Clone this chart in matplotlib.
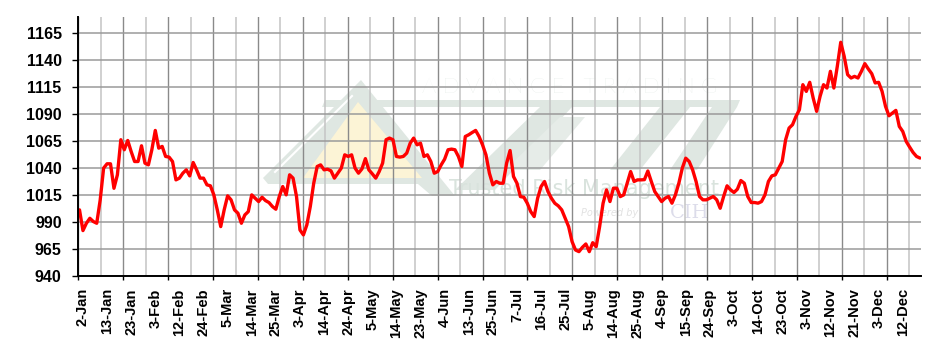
import matplotlib
matplotlib.use("Agg")
import matplotlib.pyplot as plt
import numpy as np
from matplotlib.patches import Polygon
from matplotlib.ticker import FixedLocator, NullFormatter

# ---------------- data ----------------
prices = [
    1001, 981.8, 988.6, 993.2, 990.2, 988.6, 1010, 1039.7, 1043.7, 1043.7,
    1021, 1033.5, 1066, 1056.7, 1065.3, 1055, 1045.8, 1045.8, 1060.4, 1044.3,
    1042.7, 1056.7, 1074.6, 1058.2, 1059.8, 1050.5, 1049.9, 1045.8, 1028.8, 1030.4,
    1035, 1038.1, 1032.5, 1044.9, 1038.1, 1030.4, 1030.4, 1024.2, 1023.3, 1014.9,
    1001, 985.5, 1001, 1014, 1010.3, 1001, 997.9, 988.6, 996.3, 999.4,
    1014.9, 1011.8, 1008.7, 1012.7, 1009.6, 1007.8, 1004.1, 1001.6, 1013.4, 1022.6,
    1014.9, 1033.5, 1030.4, 1013.4, 982.4, 977.8, 987.1, 1004.1, 1025.7, 1041.2,
    1042.7, 1038.1, 1038.7, 1037.2, 1030.4, 1035, 1039.7, 1052, 1050.5, 1052,
    1039.7, 1035, 1039, 1048.5, 1038.1, 1034.4, 1030.4, 1036.5, 1044.3, 1066,
    1067.5, 1066, 1050.5, 1049.9, 1050.5, 1053.6, 1062.8, 1067.5, 1061.3, 1062.8,
    1050.5, 1052, 1045.8, 1035, 1036.5, 1042.7, 1048, 1056.7, 1057.3, 1056.7,
    1050.5, 1041.2, 1069, 1070.6, 1072.7, 1074.6, 1069, 1061.3, 1052, 1035,
    1024.2, 1027.3, 1025.7, 1025.7, 1044.3, 1056, 1031.9, 1025.7, 1013.3, 1012.7,
    1007.1, 999.4, 994.8, 1011.8, 1022.6, 1027.3, 1018, 1011.8, 1007.1, 1004.7,
    1001, 993.2, 985.5, 971.6, 963.8, 962.3, 966.3, 969.4, 962.3, 970.6,
    966.9, 985.5, 1007.1, 1019.5, 1008.7, 1021.1, 1021.1, 1013.3, 1014.9, 1025.7,
    1036.5, 1027.3, 1028.8, 1028.8, 1029, 1037, 1027.3, 1018, 1013.4, 1008.7,
    1011.8, 1013.4, 1007.2, 1014.9, 1025.7, 1039.7, 1048.9, 1045.8, 1038.1, 1027.3,
    1013.4, 1010.3, 1010.3, 1011.8, 1013.4, 1010.3, 1002.5, 1013.4, 1023.3, 1019.6,
    1017.1, 1020.2, 1028.2, 1025.7, 1013.4, 1007.8, 1007.8, 1007.2, 1008.7, 1014.9,
    1027.3, 1032.5, 1033.5, 1039.7, 1045.8, 1066, 1076.8, 1079.9, 1087.6, 1093.8,
    1117, 1110.8, 1119.2, 1104.6, 1092.3, 1106.2, 1117, 1113.9, 1129.4, 1113.9,
    1134, 1156.3, 1143.3, 1126.3, 1123.2, 1124.7, 1123.2, 1129.4, 1136.5, 1131.6,
    1127.2, 1118.6, 1119.2, 1110.8, 1096.9, 1088.2, 1090.7, 1093.2, 1078.3, 1073.7,
    1064.4, 1059.2, 1054.2, 1050.5, 1049,
]

date_labels = [
    "2-Jan", "13-Jan", "23-Jan", "3-Feb", "12-Feb", "24-Feb", "5-Mar", "14-Mar",
    "25-Mar", "3-Apr", "14-Apr", "24-Apr", "5-May", "14-May", "23-May", "4-Jun",
    "13-Jun", "25-Jun", "7-Jul", "16-Jul", "25-Jul", "5-Aug", "14-Aug", "25-Aug",
    "4-Sep", "15-Sep", "24-Sep", "3-Oct", "14-Oct", "23-Oct", "3-Nov", "12-Nov",
    "21-Nov", "3-Dec", "12-Dec",
]
label_every = 7  # trading days between labels

y_ticks = [940, 965, 990, 1015, 1040, 1065, 1090, 1115, 1140, 1165]

# ---------------- figure ----------------
W, H = 936, 356
fig = plt.figure(figsize=(W / 100, H / 100), dpi=100)
fig.patch.set_facecolor("white")

L, R, T, B = 78.3, 921.0, 16.7, 275.7
ax = fig.add_axes([L / W, 1 - B / H, (R - L) / W, (B - T) / H])
ax.set_facecolor("white")

FONT = "Liberation Sans"

x = np.arange(len(prices))
ax.plot(x, prices, color="#ff0000", lw=2.4, solid_joinstyle="round",
        solid_capstyle="round", zorder=3)

x0, x1 = -0.35, 244.3
ax.set_xlim(x0, x1)
ax.set_ylim(940, 1180)

# vertical grid (major dark with ticks, minor light)
grid_step = 6.52
major = np.arange(x0, x1, 2 * grid_step)
minor = np.arange(x0 + grid_step, x1, 2 * grid_step)
ax.xaxis.set_major_locator(FixedLocator(major))
ax.xaxis.set_minor_locator(FixedLocator(minor))
ax.xaxis.set_major_formatter(NullFormatter())
ax.tick_params(axis="x", which="major", length=3, width=1.0, color="black",
               direction="out")
ax.tick_params(axis="x", which="minor", length=0)
ax.grid(axis="x", which="major", color="#8a8a8a", lw=1.0)
ax.grid(axis="x", which="minor", color="#c4c4c4", lw=1.1)

# horizontal grid
ax.set_yticks(y_ticks)
ax.set_yticklabels([str(v) for v in y_ticks], fontfamily=FONT,
                   fontweight="bold", fontsize=11.5)
ax.tick_params(axis="y", length=4.5, width=1.0, color="black", pad=7.5)
ax.grid(axis="y", color="#9a9a9a", lw=1.1)
ax.set_axisbelow(True)

for s in ["top", "right"]:
    ax.spines[s].set_visible(False)
for s in ["left", "bottom"]:
    ax.spines[s].set_color("black")
    ax.spines[s].set_linewidth(1.4)
    ax.spines[s].set_zorder(4)

# date labels on a secondary axis (no tick marks)
sec = ax.secondary_xaxis("bottom")
label_pos = np.arange(len(date_labels)) * label_every + 1.0
sec.set_xticks(label_pos)
sec.set_xticklabels(date_labels, rotation=90, fontfamily=FONT,
                    fontweight="bold", fontsize=10.5)
sec.tick_params(axis="x", length=0, pad=9)
sec.spines["bottom"].set_visible(False)

# ---------------- watermark ----------------
def fp(pts):
    return [(px / W, 1 - py / H) for px, py in pts]

wm = "#dfe7e2"
shapes = [
    ([(263, 178), (361, 80), (455, 196), (432, 196), (418, 184), (268, 184)], wm),
    ([(325, 100), (740, 100), (737, 107), (322, 107)], wm),
    ([(455, 190), (540, 107), (572, 107), (495, 190)], wm),
    ([(505, 170), (560, 117), (585, 117), (540, 170)], "#e6ece8"),
    ([(610, 170), (660, 107), (690, 107), (640, 170)], wm),
    ([(670, 170), (712, 107), (737, 107), (697, 170)], wm),
    ([(303, 178), (358, 102), (422, 178)], "#fcf4d6"),
]
for pts, col in shapes:
    ax.add_patch(Polygon(fp(pts), closed=True, transform=fig.transFigure,
                         facecolor=col, edgecolor="none", zorder=0.1))
ax.plot([275 / W, 352 / W], [1 - 172 / H, 1 - 96 / H], color="white", lw=1.5,
        transform=fig.transFigure, zorder=0.15)

ax.text(570 / W, 1 - 87 / H, "A D V A N C E   T R A D I N G", transform=fig.transFigure,
        ha="center", va="center", fontsize=16, fontfamily="Lato",
        fontweight="light", color="#dde5e0", zorder=0.2)
ax.text(584 / W, 1 - 189 / H, "Trusted Risk Management", transform=fig.transFigure,
        ha="center", va="center", fontsize=15, fontfamily="DejaVu Sans",
        color="#d9e3dd", zorder=0.2)
ax.text(610 / W, 1 - 213 / H, "Powered by", transform=fig.transFigure,
        ha="center", va="center", fontsize=7, fontstyle="italic",
        fontfamily="DejaVu Sans", color="#e2e2e2", zorder=0.2)
ax.text(690 / W, 1 - 213 / H, "CIH", transform=fig.transFigure,
        ha="center", va="center", fontsize=14, fontfamily="DejaVu Serif",
        color="#dcdcea", zorder=0.2)

fig.savefig("out.png", dpi=100, facecolor="white")
